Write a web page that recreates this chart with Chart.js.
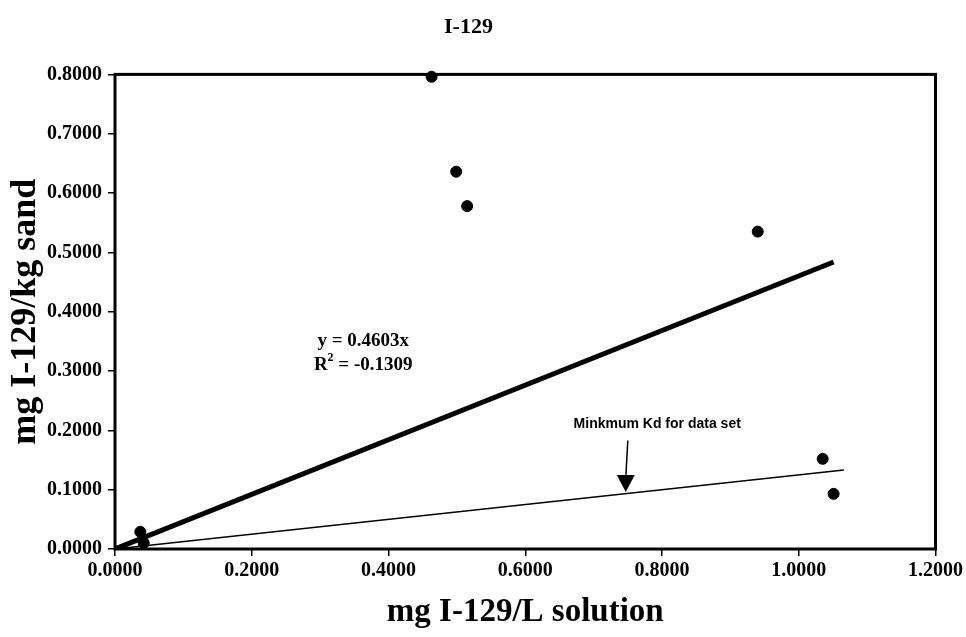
<!DOCTYPE html>
<html>
<head>
<meta charset="utf-8">
<script src="https://cdn.jsdelivr.net/npm/chart.js@4/dist/chart.umd.min.js"></script>
<style>
  html, body { margin: 0; padding: 0; background: #fff; }
  #wrap { width: 966px; height: 637px; }
</style>
</head>
<body>
<div id="wrap"><canvas id="theCanvas"></canvas></div>
<script>
// measured points (mg/L solution vs mg/kg sand)
var solution = [0.037, 0.042, 0.463, 0.499, 0.515, 0.940, 1.035, 1.051];
var sand     = [0.029, 0.010, 0.796, 0.636, 0.578, 0.535, 0.152, 0.093];

// fitted line y = 0.4603x, end points
var fitX = [0, 1.051];
var fitY = [0, 0.4838];

// minimum Kd line, end points
var minKdX = [0, 1.066];
var minKdY = [0, 0.133];

var xTicks = [0, 0.2, 0.4, 0.6, 0.8, 1.0, 1.2];
var yTicks = [0, 0.1, 0.2, 0.3, 0.4, 0.5, 0.6, 0.7, 0.8];

function pairs(xs, ys) {
    var out = [];
    for (var i = 0; i < xs.length; i++) {
        out.push({x: xs[i], y: ys[i]});
    }
    return out;
}

var serif = '"Liberation Serif", "Times New Roman", serif';

// text + arrow drawn on top of the plot
var notes = {
    eq1: {x: 0.363, y: 0.351, text: 'y = 0.4603x'},
    eq2: {x: 0.363, y: 0.310},
    kd: {x: 0.793, y: 0.211, text: 'Minkmum Kd for data set'},
    arrowFrom: {x: 0.750, y: 0.183},
    arrowTo: {x: 0.747, y: 0.096}
};

var extras = {
    id: 'extras',
    afterDatasetsDraw: function(chart) {
        var ctx = chart.ctx;
        var a = chart.chartArea;
        var xs = chart.scales.x, ys = chart.scales.y;
        ctx.save();
        // plot frame
        ctx.strokeStyle = '#000';
        ctx.lineWidth = 3;
        ctx.strokeRect(a.left, a.top, a.right - a.left, a.bottom - a.top);

        // equation
        ctx.fillStyle = '#000';
        ctx.font = 'bold 19px ' + serif;
        ctx.textAlign = 'center';
        ctx.textBaseline = 'middle';
        ctx.fillText(notes.eq1.text, xs.getPixelForValue(notes.eq1.x), ys.getPixelForValue(notes.eq1.y));
        var ex = xs.getPixelForValue(notes.eq2.x), ey = ys.getPixelForValue(notes.eq2.y);
        var p1 = 'R', p2 = ' = -0.1309';
        var w1 = ctx.measureText(p1).width;
        ctx.font = 'bold 12px ' + serif;
        var wSup = ctx.measureText('2').width;
        ctx.font = 'bold 19px ' + serif;
        var w2 = ctx.measureText(p2).width;
        var start = ex - (w1 + wSup + w2) / 2;
        ctx.textAlign = 'left';
        ctx.fillText(p1, start, ey);
        ctx.font = 'bold 12px ' + serif;
        ctx.fillText('2', start + w1, ey - 7);
        ctx.font = 'bold 19px ' + serif;
        ctx.fillText(p2, start + w1 + wSup, ey);

        // Kd label
        ctx.font = 'bold 14px "Liberation Sans", Arial, sans-serif';
        ctx.textAlign = 'center';
        ctx.fillText(notes.kd.text, xs.getPixelForValue(notes.kd.x), ys.getPixelForValue(notes.kd.y));

        // arrow
        var fx = xs.getPixelForValue(notes.arrowFrom.x), fy = ys.getPixelForValue(notes.arrowFrom.y);
        var tx = xs.getPixelForValue(notes.arrowTo.x), ty = ys.getPixelForValue(notes.arrowTo.y);
        ctx.lineWidth = 1.5;
        ctx.beginPath();
        ctx.moveTo(fx, fy);
        ctx.lineTo(tx, ty - 14);
        ctx.stroke();
        ctx.beginPath();
        ctx.moveTo(tx, ty);
        ctx.lineTo(tx - 9, ty - 17);
        ctx.lineTo(tx + 9, ty - 17);
        ctx.closePath();
        ctx.fill();
        ctx.restore();
    }
};

var tickFont = {family: serif, size: 20, weight: 'bold'};

var myChart = new Chart(document.getElementById('theCanvas'), {
    type: 'scatter',
    data: {
        datasets: [
            {
                label: 'data',
                data: pairs(solution, sand),
                backgroundColor: '#000',
                borderColor: '#000',
                pointRadius: 5.5,
                pointHoverRadius: 5.5,
                clip: false
            },
            {
                label: 'fit',
                type: 'line',
                data: pairs(fitX, fitY),
                borderColor: '#000',
                borderWidth: 5,
                pointRadius: 0,
                fill: false
            },
            {
                label: 'min Kd',
                type: 'line',
                data: pairs(minKdX, minKdY),
                borderColor: '#000',
                borderWidth: 1.5,
                pointRadius: 0,
                fill: false
            }
        ]
    },
    options: {
        responsive: true,
        maintainAspectRatio: false,
        animation: false,
        layout: {padding: {left: 0, right: 29, top: 0, bottom: 0}},
        plugins: {
            legend: {display: false},
            tooltip: {enabled: false},
            title: {
                display: true,
                text: 'I-129',
                color: '#000',
                font: {family: serif, size: 22, weight: 'bold'},
                padding: {top: 14, bottom: 34}
            }
        },
        scales: {
            x: {
                type: 'linear',
                min: 0,
                max: 1.2,
                afterBuildTicks: function(axis) {
                    axis.ticks = xTicks.map(function(v) { return {value: v}; });
                },
                afterFit: function(axis) { axis.height = 88; },
                grid: {display: true, drawOnChartArea: false, drawTicks: true, tickLength: 7, color: '#000', lineWidth: 1.5},
                border: {display: false},
                ticks: {
                    color: '#000',
                    font: tickFont,
                    padding: 3,
                    maxRotation: 0,
                    callback: function(v) { return Number(v).toFixed(4); }
                },
                title: {
                    display: true,
                    text: 'mg I-129/L solution',
                    color: '#000',
                    font: {family: serif, size: 33, weight: 'bold'},
                    padding: {top: 0, bottom: 5}
                }
            },
            y: {
                type: 'linear',
                min: 0,
                max: 0.8,
                afterBuildTicks: function(axis) {
                    axis.ticks = yTicks.map(function(v) { return {value: v}; });
                },
                afterFit: function(axis) { axis.width = 115; },
                grid: {display: true, drawOnChartArea: false, drawTicks: true, tickLength: 7, color: '#000', lineWidth: 1.5},
                border: {display: false},
                ticks: {
                    color: '#000',
                    font: tickFont,
                    padding: 6,
                    callback: function(v) { return Number(v).toFixed(4); }
                },
                title: {
                    display: true,
                    text: 'mg I-129/kg sand',
                    color: '#000',
                    font: {family: serif, size: 36, weight: 'bold'},
                    padding: {top: 4, bottom: 0}
                }
            }
        }
    },
    plugins: [extras]
});
</script>
</body>
</html>
